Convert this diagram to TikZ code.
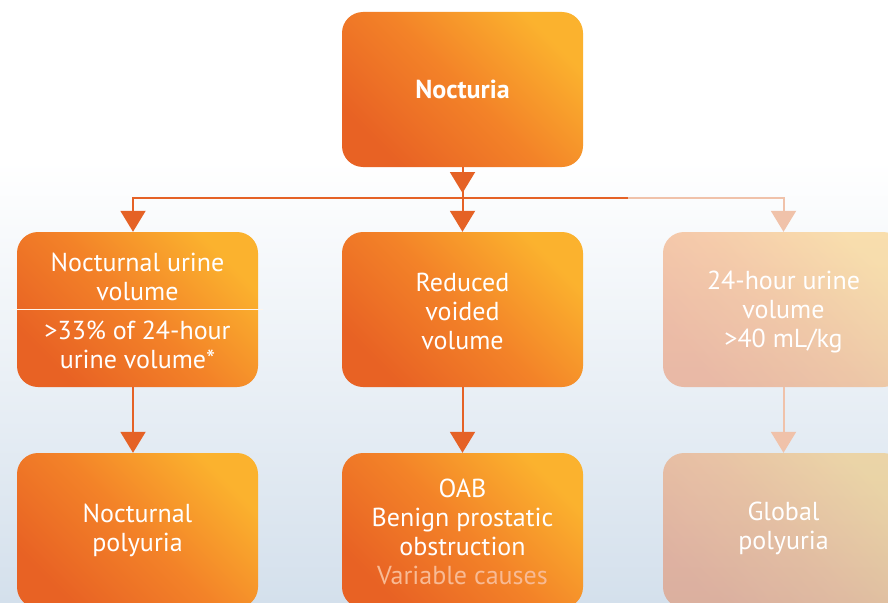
\documentclass[tikz,border=0pt]{standalone}
\usepackage{fontspec}
\setmainfont{PT Sans}
\usetikzlibrary{arrows.meta}
\definecolor{arrowc}{RGB}{229,98,38}
\definecolor{fadec}{RGB}{240,194,170}
\definecolor{orgdark}{RGB}{232,98,36}
\definecolor{orgmid}{RGB}{243,130,40}
\definecolor{orglight}{RGB}{251,178,46}
\definecolor{paletxt}{RGB}{248,186,148}
\definecolor{bgblue}{RGB}{212,224,236}
\begin{document}
\begin{tikzpicture}
  [x=1pt,y=-1pt,
   box/.style={rounded corners=21pt,minimum width=241pt,minimum height=155pt,
     bottom color=orgdark,top color=orglight,middle color=orgmid,shading angle=-45,
     text=white,align=center,font=\fontsize{26}{29}\selectfont},
   faded/.style={box,fill opacity=0.38},
   txt/.style={text=white,align=center,font=\fontsize{26}{29}\selectfont},
   link/.style={draw=arrowc,line width=2pt},
   arrow/.style={link,-{Triangle[width=25pt,length=21pt]}},
   fadearrow/.style={draw=fadec,line width=2pt,-{Triangle[width=25pt,length=21pt]}},
   divider/.style={draw=white!92!orange,line width=1.3pt}]
  \useasboundingbox (0,0) rectangle (888,602);
  \clip (0,0) rectangle (888,602);
  \fill[white] (0,0) rectangle (888,602);
  \shade[top color=white,bottom color=bgblue] (0,160) rectangle (888,602);
  % boxes
  \node at (462.5,89.5) (noct) [box] {\textbf{Nocturia}};
  \node at (137.5,309.5) (nuv) [box] {};
  \node at (462.5,309.5) (rvv) [box] {};
  \node at (462.5,311) (rvvtxt) [txt] {Reduced\\voided\\volume};
  \node at (783.5,309.5) (tuv) [faded] {};
  \node at (783.5,312) (tuvtxt) [txt] {24-hour urine\\volume\\>40 mL/kg};
  \node at (137.5,530.5) (np) [box] {Nocturnal\\polyuria};
  \node at (462.5,530.5) (bpo) [box] {};
  \node at (462.5,532) (bpotxt) [txt] {OAB\\Benign prostatic\\obstruction\\{\color{paletxt}Variable causes}};
  \node at (783.5,530.5) (gp) [faded] {};
  \node at (783.5,528) (gptxt) [txt] {Global\\polyuria};
  % split box
  \draw[divider] ([xshift=-5pt]nuv.west) -- ([xshift=5pt]nuv.east);
  \node at (137.5,277) (nuvtop) [txt] {Nocturnal urine\\volume};
  \node at (137.5,345) (nuvbot) [txt] {>33\% of 24-hour\\urine volume*};
  % connectors
  \coordinate (barM) at (462.5,198);
  \coordinate (barF) at (628,198);
  \draw[arrow] (noct) -- (rvv);
  \draw[arrow] (noct) -- ([yshift=5pt]barM);
  \draw[arrow] (barM) -| ([xshift=-4.5pt]nuv.north);
  \draw[link] (barM) -- (barF);
  \draw[fadearrow] (barF) -| (tuv.north);
  \draw[arrow] ([xshift=-4.5pt]nuv.south) -- ([xshift=-4.5pt]np.north);
  \draw[arrow] (rvv) -- (bpo);
  \draw[fadearrow] (tuv) -- (gp);
\end{tikzpicture}
\end{document}
